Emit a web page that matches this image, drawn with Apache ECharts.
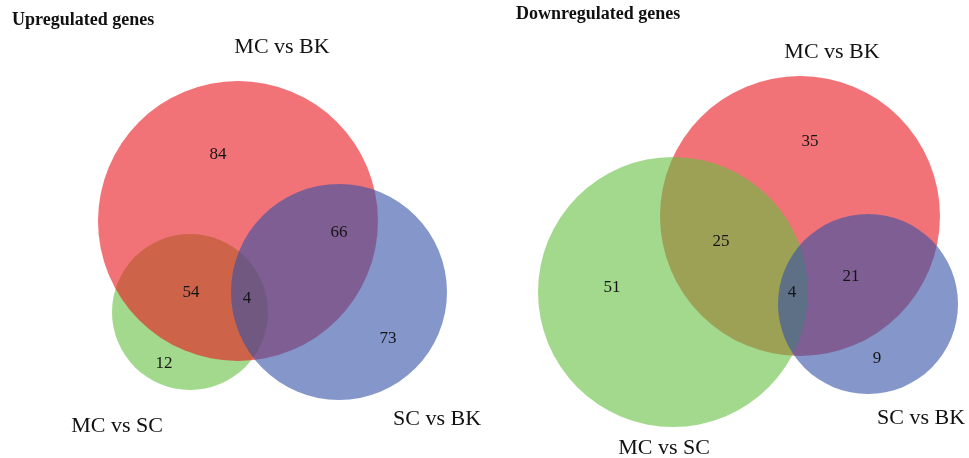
<!DOCTYPE html>
<html>
<head>
<meta charset="utf-8">
<script src="https://cdn.jsdelivr.net/npm/echarts@6/dist/echarts.min.js"></script>
<style>
  html, body { margin: 0; padding: 0; background: #ffffff; }
  #chart { width: 969px; height: 458px; }
</style>
</head>
<body>
<div id="chart"></div>
<script>
// Comparison sets and panel titles
const setNames = ['MC vs BK', 'SC vs BK', 'MC vs SC'];
const panelTitles = ['Upregulated genes', 'Downregulated genes'];

// Venn regions (exclusive): order shared by both count arrays
const regionNames = ['MC vs BK only', 'SC vs BK only', 'MC vs SC only',
                     'MC vs BK & SC vs BK', 'MC vs BK & MC vs SC', 'all three'];
const upCounts = [84, 73, 12, 66, 54, 4];
const downCounts = [35, 9, 51, 21, 25, 4];

// ---- layout (pixel-space coordinate system) ----
const setColors = ['#E9161D', '#3250A7', '#64C03F'];   // MC vs BK, SC vs BK, MC vs SC
const circleOpacity = 0.6;

// circle geometry per panel: [cx, cy, r] for each set, in setNames order
const upCircleGeom = [[238, 221, 140], [339, 292, 108], [190, 312, 78]];
const downCircleGeom = [[800, 216, 140], [868, 304, 90], [673, 292, 135]];
// painting order of the sets (indices into setNames)
const upDrawOrder = [2, 0, 1];
const downDrawOrder = [0, 2, 1];

// where each region count sits, in regionNames order
const upCountPos = [[218, 155], [388, 339], [164, 364], [339, 233], [191, 293], [247, 299]];
const downCountPos = [[810, 142], [877, 359], [612, 288], [851, 277], [721, 242], [792, 293]];

// set name label positions, in setNames order
const upSetLabelPos = [[282, 47], [437, 419], [117, 426]];
const downSetLabelPos = [[832, 52], [921, 418], [664, 448]];

// panel title anchors (left, middle)
const titlePos = [[12, 22], [516, 16]];

const serif = '"Liberation Serif", "Times New Roman", serif';

function circleData(geom, order) {
  return order.map(i => ({ value: [geom[i][0], geom[i][1], geom[i][2], i], name: setNames[i] }));
}
function countData(pos, counts) {
  return counts.map((c, i) => ({ value: [pos[i][0], pos[i][1], c], name: regionNames[i] }));
}
function setLabelData(pos) {
  return setNames.map((n, i) => ({ value: [pos[i][0], pos[i][1]], name: n }));
}

function renderCircle(params, api) {
  const c = api.coord([api.value(0), api.value(1)]);
  const r = api.size([api.value(2), 0])[0];
  const idx = api.value(3);
  return {
    type: 'circle',
    shape: { cx: c[0], cy: c[1], r: r },
    style: { fill: setColors[idx], opacity: circleOpacity }
  };
}

function renderCount(params, api) {
  const c = api.coord([api.value(0), api.value(1)]);
  return {
    type: 'text',
    x: c[0], y: c[1],
    style: {
      text: String(api.value(2)),
      fontFamily: serif, fontSize: 17, fill: '#151515',
      align: 'center', verticalAlign: 'middle'
    }
  };
}

function renderSetLabel(params, api) {
  const c = api.coord([api.value(0), api.value(1)]);
  return {
    type: 'text',
    x: c[0], y: c[1],
    style: {
      text: setNames[params.dataIndex],
      fontFamily: serif, fontSize: 22, fill: '#111',
      align: 'center', verticalAlign: 'middle'
    }
  };
}

const chart = echarts.init(document.getElementById('chart'), null, { renderer: 'canvas' });

chart.setOption({
  animation: false,
  backgroundColor: '#ffffff',
  grid: { left: 0, right: 0, top: 0, bottom: 0 },
  xAxis: { type: 'value', min: 0, max: 969, show: false },
  yAxis: { type: 'value', min: 0, max: 458, inverse: true, show: false },
  graphic: panelTitles.map((t, i) => ({
    type: 'text',
    left: titlePos[i][0],
    top: titlePos[i][1] - 11,
    style: {
      text: t, fontFamily: serif, fontSize: 18, fontWeight: 'bold', fill: '#111'
    }
  })),
  series: [
    { type: 'custom', name: 'up-circles', renderItem: renderCircle, data: circleData(upCircleGeom, upDrawOrder), silent: true },
    { type: 'custom', name: 'down-circles', renderItem: renderCircle, data: circleData(downCircleGeom, downDrawOrder), silent: true },
    { type: 'custom', name: 'up-counts', renderItem: renderCount, data: countData(upCountPos, upCounts), z: 5, silent: true },
    { type: 'custom', name: 'down-counts', renderItem: renderCount, data: countData(downCountPos, downCounts), z: 5, silent: true },
    { type: 'custom', name: 'up-sets', renderItem: renderSetLabel, data: setLabelData(upSetLabelPos), z: 5, silent: true },
    { type: 'custom', name: 'down-sets', renderItem: renderSetLabel, data: setLabelData(downSetLabelPos), z: 5, silent: true }
  ]
});
</script>
</body>
</html>
